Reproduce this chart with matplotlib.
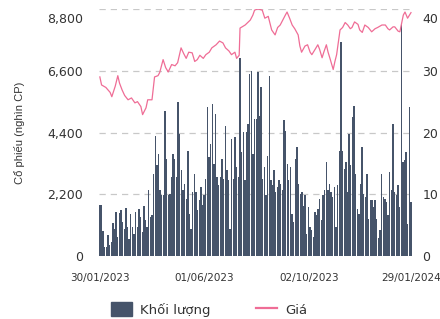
import matplotlib
matplotlib.use('Agg')
import matplotlib.pyplot as plt
import matplotlib.transforms as mtransforms
from matplotlib.patches import Patch
from matplotlib.lines import Line2D
import pandas as pd

plt.rcParams['font.family'] = ['DejaVu Sans']

# Khoi luong giao dich (nghin CP), cac phien tu 30/01/2023 den 29/01/2024
khoi_luong = [
    1834, 1834, 887, 331, 331, 769, 390, 509, 1183, 982, 1573, 686, 1538, 1633, 1218, 982,
    1715, 1041, 627, 1514, 1041, 804, 1573, 1041, 1692, 1396, 864, 1786, 1278, 1041, 2366,
    1396, 1455, 2934, 4294, 3230, 3644, 2342, 2165, 2165, 5182, 3466, 2165, 2224, 2815, 3644,
    3466, 2815,
    5480, 4350, 3050, 2340, 2580, 2050, 3760, 1510, 980, 2280, 2930, 2280, 1630, 1990, 2460,
    1810, 2160, 2760, 5300, 3530, 4000, 5420, 3290, 5060, 2815, 2520, 2815, 3470, 2760, 4650,
    3050, 2700, 980, 4180, 2760, 4240, 3170, 2815, 7060, 3700, 4410, 2700, 4410, 4710, 6480,
    6600, 3640, 4890,
    4890, 6540, 5000, 6010, 2760, 3170, 2160, 3580, 6420, 2700, 2520, 3050, 2280, 2460, 2700,
    2580, 2340, 4830, 4470, 3290, 2700, 3170, 1510, 1220, 3470, 3900, 2580, 2220, 2280, 1770,
    2160, 800, 1750, 1040, 920, 690, 1570, 1450, 1690, 2050, 1280, 2160, 2340, 3350, 2340,
    2580, 2280, 2100, 2460,
    1040, 2520, 3760, 7640, 3760, 3110, 3350, 2280, 4350, 3230, 4950, 5360, 2930, 1690, 1510,
    2580, 3880, 2220, 2100, 2930, 1340, 1990, 1990, 1750, 1990, 1340, 630, 920, 2930, 2100,
    2050, 1930, 1460, 2990, 2340, 4710, 2280, 2160, 2520, 1750, 8290, 3350, 3410, 3700, 1160,
    5300, 1930,
]

# Gia (nghin dong): so ngay ke tu 30/01/2023 va gia tuong ung
gia_ngay = [
    0, 2, 7, 12, 14, 18, 21, 23, 26, 29, 33, 37, 41, 44, 48, 50, 54, 56, 61, 64, 68, 70, 74,
    77, 80, 84, 88, 91, 95, 98, 101, 104, 108, 111, 114, 117, 121, 124, 128, 131, 136, 140,
    144, 147, 151, 154, 158, 160, 163, 164, 170, 176, 179, 181, 185, 190, 193, 197, 201, 205,
    208, 211, 217, 219, 222, 225, 228, 232, 234, 236, 240, 243, 246, 248, 252, 255, 257, 260,
    262, 265, 267, 269, 273, 275, 277, 281, 284, 287, 290, 293, 295, 298, 302, 304, 307, 310,
    314, 318, 322, 325, 330, 334, 337, 339, 343, 345, 349, 351, 355, 357, 360, 364,
]
gia = [
    29.0, 27.7, 27.3, 26.5, 25.8, 27.5, 29.2, 28.0, 26.9, 26.0, 25.3, 25.6, 24.8, 25.0, 24.2,
    22.9, 24.0, 25.3, 25.3, 29.0, 29.2, 29.7, 31.8, 30.5, 29.8, 31.0, 30.8, 31.3, 33.7, 32.8,
    32.0, 33.0, 32.9, 31.5, 31.8, 32.5, 32.0, 32.6, 33.0, 33.7, 34.2, 34.8, 34.5, 33.7, 33.2,
    32.6, 33.0, 32.0, 32.5, 36.9, 37.4, 38.2, 39.0, 39.8, 40.0, 39.8, 38.5, 38.8, 36.6, 35.8,
    37.0, 37.4, 39.0, 39.5, 38.5, 37.4, 36.8, 35.8, 34.0, 33.0, 34.0, 34.2, 33.0, 32.6, 33.5,
    34.2, 33.5, 32.1, 33.0, 34.2, 33.0, 32.1, 30.2, 31.5, 32.6, 36.6, 37.0, 37.8, 37.4, 36.8,
    37.0, 37.9, 37.5, 36.6, 36.2, 37.4, 37.0, 36.3, 36.8, 37.0, 37.4, 37.4, 36.8, 36.6, 37.1,
    37.1, 36.4, 36.3, 39.0, 39.5, 38.5, 39.4,
]

ngay_dau = '2023-01-30'
ngay_cuoi = '2024-01-29'
nhan_x = ['30/01/2023', '01/06/2023', '02/10/2023', '29/01/2024']
ticks_trai = [0, 2200, 4400, 6600, 8800]
ticks_phai = [0, 10, 20, 30, 40]

mau_cot = '#46546a'
mau_gia = '#ef6d96'
mau_chu = '#333333'

ngay_kl = pd.date_range(ngay_dau, ngay_cuoi, periods=len(khoi_luong))
ngay_gia = pd.Timestamp(ngay_dau) + pd.to_timedelta(gia_ngay, unit='D')

fig = plt.figure(figsize=(4.4, 3.19), dpi=100)
ax = fig.add_axes([0.225, 0.197, 0.711, 0.775])
ax2 = ax.twinx()

ax.bar(ngay_kl, khoi_luong, width=1.6, color=mau_cot, linewidth=0, zorder=2)
ax2.plot(ngay_gia, gia, color=mau_gia, linewidth=0.9, zorder=3)

ax.set_ylim(0, 8800)
ax2.set_ylim(0, 40)
ax.set_xlim(pd.Timestamp(ngay_dau) - pd.Timedelta(days=1),
            pd.Timestamp(ngay_cuoi) + pd.Timedelta(days=1))

ax.set_yticks(ticks_trai)
ax.set_yticklabels([f'{v:,}' for v in ticks_trai])
ax2.set_yticks(ticks_phai)
ax2.set_yticklabels([str(v) for v in ticks_phai])

ax.set_xticks([pd.to_datetime(s, format='%d/%m/%Y') for s in nhan_x])
ax.set_xticklabels(nhan_x)

for a in (ax, ax2):
    for s in a.spines.values():
        s.set_visible(False)
    a.tick_params(length=0, colors=mau_chu)
ax.tick_params(axis='y', pad=11.5, labelsize=9)
ax2.tick_params(axis='y', pad=7.5, labelsize=9)
ax.tick_params(axis='x', pad=12, labelsize=7.5)

ax.yaxis.grid(True, color='#c8c8c8', linestyle=(0, (5, 4)), linewidth=0.9)
ax.set_axisbelow(True)
ax.set_zorder(ax2.get_zorder() - 1)
ax.patch.set_visible(True)
ax2.patch.set_visible(False)

# nhan tren cung duoc day xuong mot chut
dich = mtransforms.ScaledTranslation(0, -0.09, fig.dpi_scale_trans)
ax.get_yticklabels()[-1].set_transform(ax.get_yticklabels()[-1].get_transform() + dich)
ax2.get_yticklabels()[-1].set_transform(ax2.get_yticklabels()[-1].get_transform() + dich)

ax.set_ylabel('Cổ phiếu (nghìn CP)', fontsize=8, color=mau_chu, labelpad=16,
              family='Liberation Sans')

handles = [Patch(color=mau_cot, label='Khối lượng'),
           Line2D([], [], color=mau_gia, linewidth=1.6, label='Giá')]
fig.legend(handles=handles, loc='lower center', bbox_to_anchor=(0.475, -0.03), ncol=2,
           frameon=False, fontsize=9.5, columnspacing=3.5, handlelength=1.6,
           handleheight=1.2, handletextpad=0.6, labelcolor=mau_chu)

fig.savefig('out.png', dpi=100)
